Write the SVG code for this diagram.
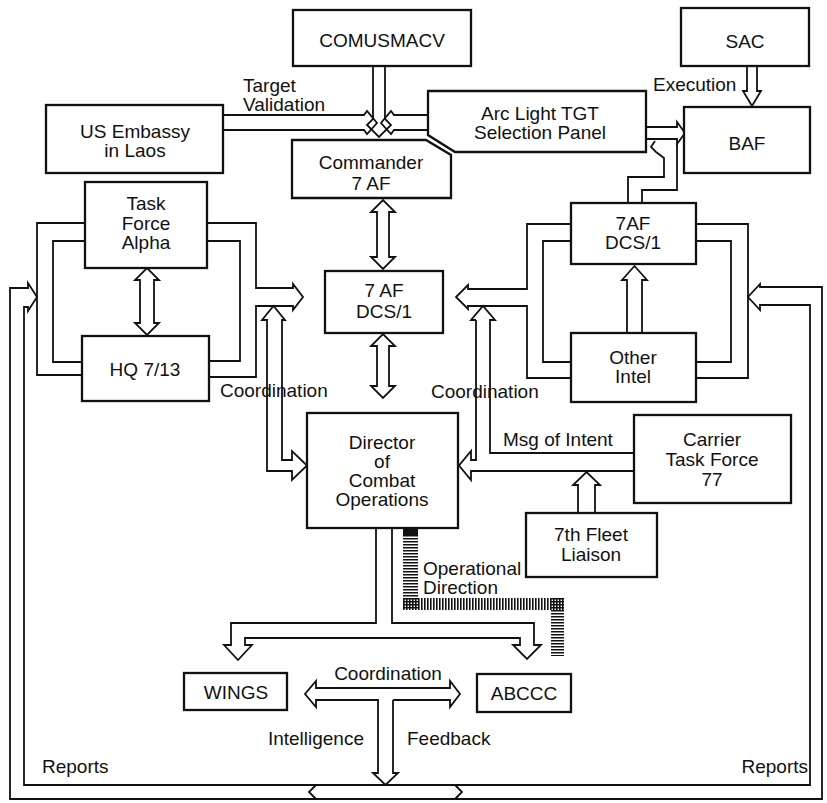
<svg xmlns="http://www.w3.org/2000/svg" width="827" height="803" viewBox="0 0 827 803">
<style>
.b{fill:#fff;stroke:#111;stroke-width:2.3}
.c{fill:none;stroke:#111;stroke-width:1.8;stroke-linejoin:miter}
.h{fill:none;stroke:#111;stroke-dasharray:1.6 1.4}
text{font-family:"Liberation Sans",Arial,Helvetica,sans-serif;font-size:19px;fill:#111}
.m{text-anchor:middle}
.e{text-anchor:end}
</style>
<rect width="827" height="803" fill="#fff"/>
<g id="connectors">
<path class="c" d="M373,66 V119 L367,125 L379,137 L391,125 L385,119 V66"/>
<path class="c" d="M223,115 H364 L367,111 L377,123 L367,134 L364,130 H223"/>
<path class="c" d="M428,115 H394 L391,111 L381,123 L391,134 L394,130 H428"/>
<path class="c" d="M747,66 V91 H743 L752,106 L761,91 H757 V66"/>
<path class="c" d="M646,127 H677 V122 L685,133 L677,144 V139 H646"/>
<path class="c" d="M628,203 V177 H664 V158 L656,152 L651,147 L655,141"/>
<path class="c" d="M642,203 V190 H677 V144"/>
<path class="c" d="M377,212 H371 L383,200 L395,212 H389 V257 H395 L383,269 L371,257 H377 Z"/>
<path class="c" d="M377,346 H371 L383,334 L395,346 H389 V386 H395 L383,398 L371,386 H377 Z"/>
<path class="c" d="M140,280 H135 L147,268 L159,280 H154 V323 H159 L147,335 L135,323 H140 Z"/>
<path class="c" d="M85,223 H37 V375 H82"/>
<path class="c" d="M85,241 H53 V362 H82"/>
<path class="c" d="M207,241 H240 V361 H209"/>
<path class="c" d="M207,223 H256 V288 H293 V284 L303,297 L293,310 V306 H256 V377 H209"/>
<path class="c" d="M267,320 H262 L273.5,306 L285,320 H282 V460 H292 V451 L307,465.5 L292,480 V471 H267 Z"/>
<path class="c" d="M571,224 H527 V289 H468 V285 L456,297 L468,309 V306 H527 V378 H571"/>
<path class="c" d="M571,241 H543 V362 H571"/>
<path class="c" d="M696,241 H731 V362 H696"/>
<path class="c" d="M696,224 H748 V378 H696"/>
<path class="c" d="M476,320 H471 L483,306 L495,320 H490 V453 H634"/>
<path class="c" d="M476,320 V460 H471 V451 L459,465.5 L471,480 V471 H634"/>
<path class="c" d="M627,333 V280 H622 L634.5,266 L647,280 H642 V333"/>
<path class="c" d="M578,513 V485 H573 L586.5,472 L600,485 H595 V513"/>
<path class="c" d="M316,799 H10 V288 H28 V283 L37,297 L28,311 V307 H24 V785 H316"/>
<path class="c" d="M455,785 H810 V305 H760 V310 L748,297 L760,284 V287 H822 V799 H455"/>
<path class="c" d="M316,785 H455 M316,799 H455 M316,785 L309,792 L316,799 M455,785 L462,792 L455,799"/>
<path class="c" d="M393,700 V773 H398 L385.5,785 L373,773 H378 V700 H316 V707 L305,694 L316,681 V688 H450 V681 L460,694 L450,707 V700 H393"/>
<path class="c" d="M376,528 V623 H231 V645 H224 L238,660 L252,645 H245 V638 H520 V645 H513 L527,659 L541,645 H534 V623 H392 V528"/>
<rect x="403" y="528" width="15" height="7" fill="#111"/>
<path class="h" stroke-width="15" d="M410.5,535 V610"/>
<path class="h" stroke-width="12" d="M403,604 H565"/>
<path class="h" stroke-width="13" d="M557.5,598 V656"/>
</g>
<g id="labels">
<text x="243" y="92">Target</text>
<text x="243" y="111">Validation</text>
<text x="653" y="91">Execution</text>
<text x="220" y="397">Coordination</text>
<text x="431" y="398">Coordination</text>
<text x="503" y="446">Msg of Intent</text>
<text x="423" y="575">Operational</text>
<text x="423" y="594">Direction</text>
<text class="m" x="388" y="680">Coordination</text>
<text class="e" x="364" y="745">Intelligence</text>
<text x="407" y="745">Feedback</text>
<text x="42" y="773">Reports</text>
<text class="e" x="808" y="773">Reports</text>
</g>
<g id="comusmacv"><rect class="b" x="293" y="10" width="178" height="56"/><text class="m" x="382" y="47">COMUSMACV</text></g>
<g id="sac"><rect class="b" x="681" y="8" width="128" height="58"/><text class="m" x="745" y="48">SAC</text></g>
<g id="baf"><rect class="b" x="684" y="107" width="126" height="66"/><text class="m" x="747" y="150">BAF</text></g>
<g id="embassy"><rect class="b" x="46" y="105" width="177" height="68"/><text class="m" x="135" y="138">US Embassy</text><text class="m" x="135" y="157">in Laos</text></g>
<g id="arclight"><path class="b" d="M428,91 H646 V152 H455 L428,135 Z"/><text class="m" x="540" y="120">Arc Light TGT</text><text class="m" x="540" y="139">Selection Panel</text></g>
<g id="commander"><path class="b" d="M292,140 H426 L451,155 V198 H292 Z"/><text class="m" x="371" y="169">Commander</text><text class="m" x="371" y="190">7 AF</text></g>
<g id="tfalpha"><rect class="b" x="85" y="182" width="122" height="86"/><text class="m" x="146" y="210">Task</text><text class="m" x="146" y="229.5">Force</text><text class="m" x="146" y="249">Alpha</text></g>
<g id="hq713"><rect class="b" x="82" y="336" width="127" height="65"/><text class="m" x="145" y="376">HQ 7/13</text></g>
<g id="dcs1center"><rect class="b" x="325" y="271" width="118" height="62"/><text class="m" x="384" y="297">7 AF</text><text class="m" x="384" y="318">DCS/1</text></g>
<g id="dcs1right"><rect class="b" x="571" y="203" width="125" height="61"/><text class="m" x="633" y="230">7AF</text><text class="m" x="633" y="249">DCS/1</text></g>
<g id="otherintel"><rect class="b" x="571" y="333" width="125" height="69"/><text class="m" x="633" y="364">Other</text><text class="m" x="633" y="383">Intel</text></g>
<g id="director"><rect class="b" x="307" y="413" width="151" height="115"/><text class="m" x="382" y="449">Director</text><text class="m" x="382" y="468">of</text><text class="m" x="382" y="487">Combat</text><text class="m" x="382" y="506">Operations</text></g>
<g id="carrier"><rect class="b" x="634" y="415" width="157" height="88"/><text class="m" x="712" y="446">Carrier</text><text class="m" x="712" y="466">Task Force</text><text class="m" x="712" y="486">77</text></g>
<g id="fleet7"><rect class="b" x="526" y="513" width="131" height="64"/><text class="m" x="591" y="541">7th Fleet</text><text class="m" x="591" y="561">Liaison</text></g>
<g id="wings"><rect class="b" x="184" y="673" width="103" height="37"/><text class="m" x="236" y="699">WINGS</text></g>
<g id="abccc"><rect class="b" x="477" y="674" width="94" height="38"/><text class="m" x="524" y="700">ABCCC</text></g>
</svg>
